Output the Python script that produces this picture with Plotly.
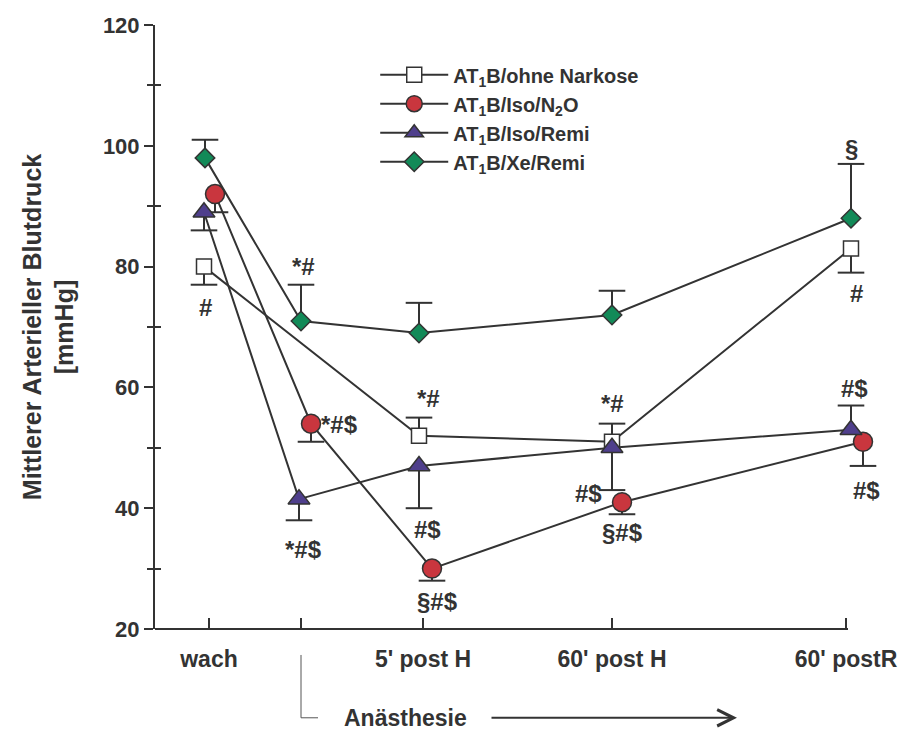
import plotly.graph_objects as go

# ---- data ----
tick_pos = [0, 9.2, 21.4, 40.3, 63.7]
tick_text = ["wach", "", "5' post H", "60' post H", "60' postR"]

names = ["AT<sub>1</sub>B/ohne Narkose", "AT<sub>1</sub>B/Iso/N<sub>2</sub>O",
         "AT<sub>1</sub>B/Iso/Remi", "AT<sub>1</sub>B/Xe/Remi"]

sq_x = [-0.5, 21.0, 40.3, 64.2]
sq_y = [80, 52, 51, 83]
sq_up = [0, 3, 3, 0]
sq_dn = [3, 0, 0, 4]

ci_x = [0.6, 10.2, 22.3, 41.3, 65.4]
ci_y = [92, 54, 30, 41, 51]
ci_up = [0, 0, 0, 0, 0]
ci_dn = [3, 3, 2, 2, 4]

tr_x = [-0.5, 9.0, 21.0, 40.3, 64.2]
tr_y = [89, 41.5, 47, 50, 53]
tr_up = [0, 0, 0, 0, 4]
tr_dn = [3, 3.5, 7, 7, 0]

di_x = [-0.4, 9.2, 21.0, 40.3, 64.2]
di_y = [98, 71, 69, 72, 88]
di_up = [3, 6, 5, 4, 9]
di_dn = [0, 0, 0, 0, 0]

notes = [
    ("#", -0.4, 73.3), ("*#", 9.4, 80.1), ("*#$", 13.0, 53.8), ("*#$", 9.4, 33.1),
    ("*#", 21.9, 58.2), ("#$", 21.8, 36.4), ("§#$", 22.8, 24.5),
    ("*#", 40.3, 57.4), ("#$", 37.9, 42.5), ("§#$", 41.3, 35.9),
    ("§", 64.2, 99.6), ("#", 64.7, 75.6), ("#$", 64.5, 59.9), ("#$", 65.7, 43.0),
]

# ---- style ----
DARK = "#333333"
FONT = "Liberation Sans"
XMIN, XMAX, XAXIS_END = -5.4, 69.0, 63.9
series = [
    (sq_x, sq_y, sq_up, sq_dn, "square", 15, "white"),
    (ci_x, ci_y, ci_up, ci_dn, "circle", 19, "#c9363e"),
    (tr_x, tr_y, tr_up, tr_dn, "triangle-up", 19, "#4f3f8c"),
    (di_x, di_y, di_up, di_dn, "diamond", 15, "#128a58"),
]

fig = go.Figure()

# error bars (stems + caps) drawn beneath
for xs, ys, ups, dns, *_ in series:
    sx, sy, cx, cy = [], [], [], []
    for x, y, u, d in zip(xs, ys, ups, dns):
        if u > 0:
            sx += [x, x, None]; sy += [y, y + u, None]; cx.append(x); cy.append(y + u)
        if d > 0:
            sx += [x, x, None]; sy += [y, y - d, None]; cx.append(x); cy.append(y - d)
    fig.add_trace(go.Scatter(x=sx, y=sy, mode="lines", line=dict(color=DARK, width=2),
                             showlegend=False, hoverinfo="skip", cliponaxis=False))
    fig.add_trace(go.Scatter(x=cx, y=cy, mode="markers",
                             marker=dict(symbol="line-ew", size=19,
                                         line=dict(color=DARK, width=2)),
                             showlegend=False, hoverinfo="skip", cliponaxis=False))

for i, (xs, ys, ups, dns, sym, size, col) in enumerate(series):
    fig.add_trace(go.Scatter(
        x=xs, y=ys, mode="lines+markers", name=names[i], legendgroup=f"g{i}",
        line=dict(color=DARK, width=2),
        marker=dict(symbol=sym, size=size, color=col, line=dict(color=DARK, width=1.5)),
        cliponaxis=False))

for txt, x, y in notes:
    fig.add_annotation(x=x, y=y, text=txt, showarrow=False,
                       font=dict(family=FONT, size=24, color=DARK, weight="bold"))

# x axis line (ends at last tick)
fig.add_shape(type="line", xref="x", yref="paper", x0=XMIN, x1=XAXIS_END, y0=0, y1=0,
              line=dict(color=DARK, width=2))

# Anästhesie bracket + arrow
fig.add_shape(type="line", xref="x", yref="paper", x0=9.2, x1=9.2, y0=-0.043, y1=-0.147,
              line=dict(color="#555555", width=1))
fig.add_shape(type="line", xref="x", yref="paper", x0=9.2, x1=10.9, y0=-0.147, y1=-0.147,
              line=dict(color="#555555", width=1))
fig.add_annotation(x=19.6, y=-0.147, xref="x", yref="paper", yanchor="middle",
                   text="Anästhesie", showarrow=False,
                   font=dict(family=FONT, size=23, color=DARK, weight="bold"))
fig.add_annotation(x=52.8, y=-0.147, xref="x", yref="paper", ax=28.1, ay=0,
                   axref="x", ayref="pixel", text="", showarrow=True, arrowhead=5,
                   arrowsize=1.6, arrowwidth=2, arrowcolor=DARK)

fig.update_layout(
    width=903, height=731, plot_bgcolor="white", paper_bgcolor="white",
    margin=dict(l=155, r=4, t=25, b=102),
    font=dict(family=FONT, color=DARK),
    xaxis=dict(range=[XMIN, XMAX], showgrid=False, zeroline=False, showline=False,
               tickmode="array", tickvals=tick_pos,
               ticktext=tick_text, ticks="inside", ticklen=11, tickwidth=2,
               tickcolor=DARK, ticklabelstandoff=14,
               tickfont=dict(family=FONT, size=23, color=DARK, weight="bold")),
    yaxis=dict(range=[20, 120], showgrid=False, zeroline=False, showline=True,
               linecolor=DARK, linewidth=2, tickvals=[20, 40, 60, 80, 100, 120],
               ticks="outside", ticklen=9, tickwidth=2, tickcolor=DARK,
               tickfont=dict(family=FONT, size=22, color=DARK, weight="bold"),
               minor=dict(tickvals=[30, 50, 70, 90, 110], ticks="outside", ticklen=6,
                          tickwidth=2, tickcolor=DARK),
               title=dict(text="Mittlerer Arterieller Blutdruck<br>[mmHg]", standoff=22,
                          font=dict(family=FONT, size=25, color=DARK, weight="bold"))),
    yaxis2=dict(range=[20, 120], overlaying="y", side="left", showgrid=False,
                zeroline=False, showline=False, tickvals=[30, 50, 70, 90, 110],
                ticktext=[""] * 5, ticks="inside", ticklen=6, tickwidth=2, tickcolor=DARK),
    legend=dict(x=0.296, y=0.95, xanchor="left", yanchor="top", bgcolor="rgba(0,0,0,0)",
                tracegroupgap=0, itemwidth=68,
                font=dict(family=FONT, size=20, color=DARK, weight="bold")),
    showlegend=True,
)
# dummy trace to activate yaxis2
fig.add_trace(go.Scatter(x=[None], y=[None], yaxis="y2", showlegend=False, hoverinfo="skip"))

fig.write_html("out.html")
